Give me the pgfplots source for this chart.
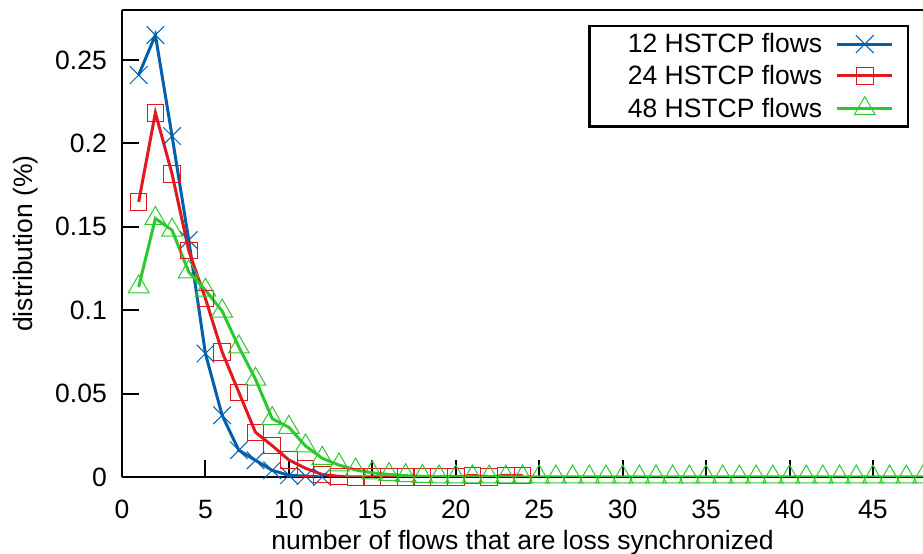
\documentclass[border=0pt]{standalone}
\usepackage{pgfplots}
\pgfplotsset{compat=1.18}
\usepackage{fontspec}
\setmainfont{Liberation Sans}
\definecolor{cblue}{RGB}{0,96,173}
\definecolor{cred}{RGB}{224,24,31}
\definecolor{cgreen}{RGB}{45,200,45}
\newcommand{\ff}{\fontsize{26.6}{31}\selectfont}
\begin{document}
\begin{tikzpicture}
\begin{axis}[
  scale only axis, width=801bp, height=467bp,
  xmin=0, xmax=48, ymin=0, ymax=0.28,
  axis lines*=left,
  axis line style={-, line width=2.5bp, black},
  tick align=inside, major tick length=17bp,
  every tick/.style={black, line width=2bp},
  xtick={0,5,10,15,20,25,30,35,40,45},
  xticklabels={0,5,10,15,20,25,30,35,40,45},
  ytick={0,0.05,0.1,0.15,0.2,0.25},
  yticklabels={0,0.05,0.1,0.15,0.2,0.25},
  font=\ff,
  xticklabel style={font=\ff, inner sep=0pt, yshift=-23bp, anchor=north},
  yticklabel style={font=\ff, inner sep=0pt, xshift=-15bp, anchor=east},
  xlabel={number of flows that are loss synchronized},
  ylabel={distribution (\%)},
  xlabel style={font=\ff, at={(axis description cs:0.5,0)}, anchor=north, inner sep=0pt, yshift=-53bp},
  ylabel style={font=\ff, at={(axis description cs:-0.1361,0.5)}, anchor=north, inner sep=0pt},
  legend style={at={(1,1)}, anchor=north east, xshift=-14bp, yshift=-15bp,
    draw=black, line width=2.5bp, inner xsep=14bp, inner ysep=7bp,
    row sep=10bp, column sep=13bp, font=\ff,
    nodes={inner sep=0.5bp}},
  legend cell align=right, legend plot pos=right,
  legend image code/.code={\draw[mark repeat=2,mark phase=2,#1] plot coordinates {(0bp,0bp)(27.5bp,0bp)(55bp,0bp)};},
]
\addplot[cblue, line width=3bp, mark=x, mark size=12.5pt, mark options={solid, line width=1bp}] coordinates {
(1,0.241) (2,0.265) (3,0.2044) (4,0.142) (5,0.074) (6,0.037) (7,0.016) (8,0.010) (9,0.004) (10,0.001) (11,0.0005) (12,0)
};
\addlegendentry{\hspace*{24bp}12 HSTCP flows}
\addplot[cred, line width=3bp, mark=square, mark size=8.3pt, mark options={solid, line width=1bp}] coordinates {
(1,0.165) (2,0.2184) (3,0.1817) (4,0.1357) (5,0.107) (6,0.075) (7,0.0508) (8,0.0268) (9,0.0188) (10,0.0102) (11,0.0052) (12,0.0015) (13,0.0004) (14,0) (15,0) (16,0) (17,0) (18,0) (19,0) (20,0) (21,0.001) (22,0) (23,0.001) (24,0.001)
};
\addlegendentry{\hspace*{24bp}24 HSTCP flows}
\addplot[cgreen, line width=3bp, mark=triangle, mark size=12pt, mark options={solid, line width=1bp}] coordinates {
(1,0.114) (2,0.155) (3,0.148) (4,0.123) (5,0.112) (6,0.0995) (7,0.078) (8,0.0586) (9,0.035) (10,0.0298) (11,0.0186) (12,0.0112) (13,0.0072) (14,0.0042) (15,0.0025) (16,0.0015) (17,0.0008) (18,0.0004) (19,0) (20,0) (21,0) (22,0) (23,0) (24,0) (25,0) (26,0) (27,0) (28,0) (29,0) (30,0) (31,0) (32,0) (33,0) (34,0) (35,0) (36,0) (37,0) (38,0) (39,0) (40,0) (41,0) (42,0) (43,0) (44,0) (45,0) (46,0) (47,0) (48,0)
};
\addlegendentry{\hspace*{24bp}48 HSTCP flows}
\draw[line width=2.5bp, black] (rel axis cs:0,1) -- (rel axis cs:1,1);
\coordinate (bl) at (rel axis cs:0,0);
\coordinate (tr) at (rel axis cs:1,1);
\end{axis}
\pgfresetboundingbox
\path[use as bounding box] ([shift={(-122bp,-77bp)}]bl) rectangle ([shift={(0bp,10bp)}]tr);
\end{tikzpicture}
\end{document}
